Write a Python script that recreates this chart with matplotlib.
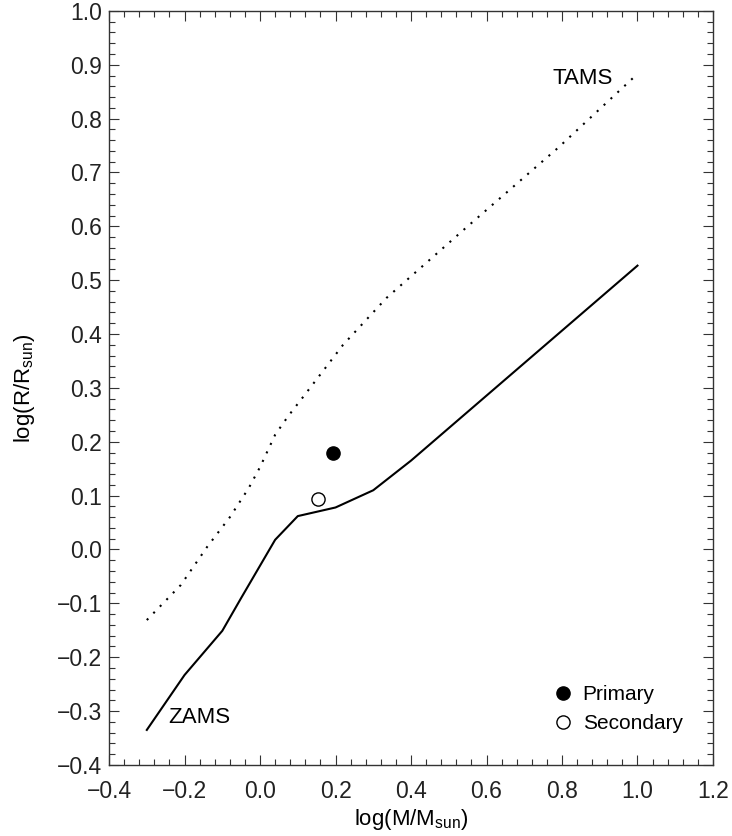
import matplotlib

matplotlib.use("Agg")
import matplotlib.pyplot as plt
from matplotlib.ticker import MultipleLocator

plt.rcParams["font.family"] = ["Liberation Sans", "DejaVu Sans"]
plt.rcParams["mathtext.fontset"] = "custom"
plt.rcParams["mathtext.rm"] = "Liberation Sans"

# ZAMS (solid) and TAMS (dotted) tracks
zams_logm = [-0.30, -0.20, -0.10, -0.05, 0.00, 0.04, 0.10, 0.20, 0.25, 0.30, 0.40, 1.00]
zams_logr = [-0.335, -0.233, -0.151, -0.090, -0.030, 0.018, 0.062, 0.078, 0.094, 0.110, 0.165, 0.527]

tams_logm = [-0.30, -0.21, -0.14, -0.08, -0.03, 0.00, 0.04, 0.075, 0.115, 0.22, 0.335, 0.55, 0.79, 1.00]
tams_logr = [-0.131, -0.066, 0.005, 0.060, 0.114, 0.153, 0.213, 0.248, 0.284, 0.380, 0.467, 0.600, 0.746, 0.883]

# binary components
primary = (0.193, 0.179)
secondary = (0.153, 0.093)


def main() -> None:
    fig = plt.figure(figsize=(7.32, 8.36), dpi=100)
    ax = fig.add_axes([0.149, 0.085, 0.825, 0.902])

    ax.plot(zams_logm, zams_logr, color="black", lw=1.5)
    ax.plot(tams_logm, tams_logr, color="black", lw=1.5, linestyle=(0, (1, 3.5)))

    ax.plot(*primary, "o", color="black", ms=9.5, label="Primary")
    ax.plot(*secondary, "o", mfc="white", mec="black", mew=1.0, ms=9.5,
            label="Secondary")

    ax.text(-0.244, -0.311, "ZAMS", fontsize=16, va="center", ha="left")
    ax.text(0.776, 0.875, "TAMS", fontsize=16, va="center", ha="left")

    ax.legend(loc="center left", bbox_to_anchor=(0.703, 0.074), frameon=False,
              fontsize=15, handlelength=1.0, handletextpad=0.45,
              labelspacing=0.47, borderpad=0.4)

    ax.set_xlim(-0.4, 1.2)
    ax.set_ylim(-0.4, 1.0)
    ax.xaxis.set_major_locator(MultipleLocator(0.2))
    ax.xaxis.set_minor_locator(MultipleLocator(0.04))
    ax.yaxis.set_major_locator(MultipleLocator(0.1))
    ax.yaxis.set_minor_locator(MultipleLocator(0.02))
    ax.xaxis.set_major_formatter(lambda v, p: f"{v:.1f}".replace("-", "\u2212"))
    ax.yaxis.set_major_formatter(lambda v, p: f"{v:.1f}".replace("-", "\u2212"))

    ax.tick_params(which="both", direction="in", top=True, right=True,
                   width=0.8, labelsize=16.5, color="#333333",
                   labelcolor="#222222")
    ax.tick_params(which="major", length=7.5)
    ax.tick_params(which="minor", length=4)
    ax.tick_params(axis="x", pad=11)
    ax.tick_params(axis="y", pad=5)
    for s in ax.spines.values():
        s.set_linewidth(1.0)
        s.set_color("#333333")

    ax.set_xlabel(r"log(M/M$_\mathregular{sun}$)", fontsize=16, labelpad=3)
    ax.set_ylabel(r"log(R/R$_\mathregular{sun}$)", fontsize=16, labelpad=14)

    fig.savefig("out.png", dpi=100)
    plt.close(fig)


if __name__ == "__main__":
    main()
